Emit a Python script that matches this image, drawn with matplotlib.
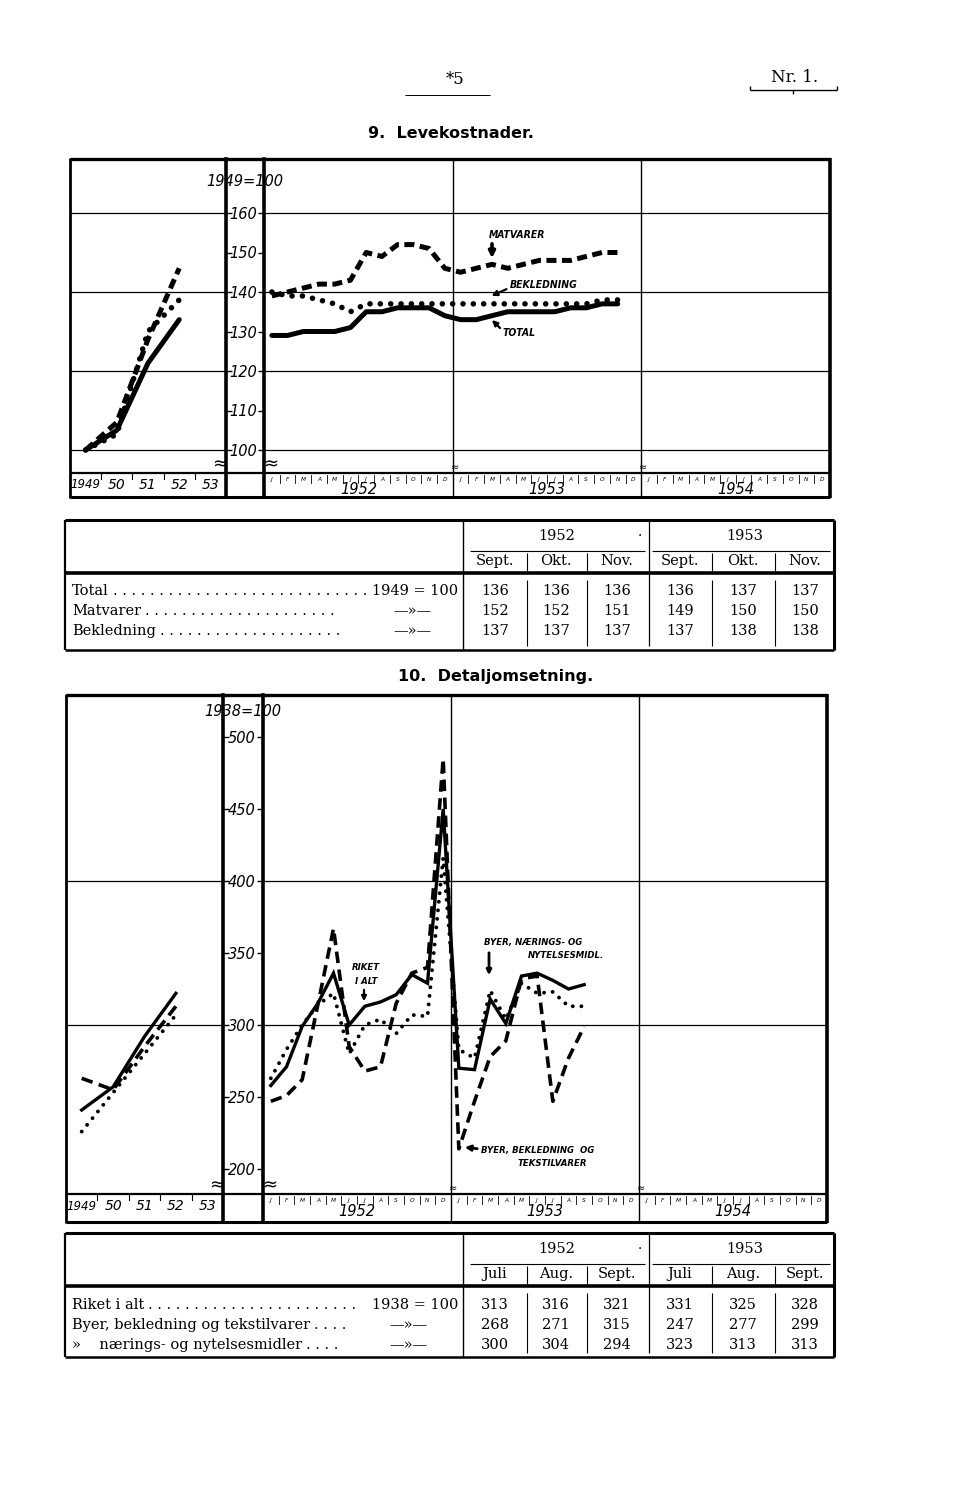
import numpy as np
import matplotlib
matplotlib.use('Agg')
import matplotlib.pyplot as plt
from matplotlib.transforms import Affine2D, blended_transform_factory
from matplotlib.lines import Line2D
from matplotlib.patches import FancyArrowPatch

# ---------------- data ----------------
annual_labels = ['1949', '50', '51', '52', '53']
month_letters = ['J', 'F', 'M', 'A', 'M', 'J', 'J', 'A', 'S', 'O', 'N', 'D']
year_labels = ['1952', '1953', '1954']

# 9. Levekostnader (1949 = 100)
lev_ticks = [100, 110, 120, 130, 140, 150, 160]
lev_grid = [100, 120, 140, 160]
lev_total_annual = [100, 105, 122, 133]
lev_mat_annual = [100, 107, 128, 146]
lev_bekl_annual = [100, 104, 130, 138]
# monthly Jan 1952 - Nov 1953
lev_total = [129, 129, 130, 130, 130, 131, 135, 135, 136, 136, 136, 134,
             133, 133, 134, 135, 135, 135, 135, 136, 136, 137, 137]
lev_mat = [139, 140, 141, 142, 142, 143, 150, 149, 152, 152, 151, 146,
           145, 146, 147, 146, 147, 148, 148, 148, 149, 150, 150]
lev_bekl = [140, 139, 139, 138, 137, 135, 137, 137, 137, 137, 137, 137,
            137, 137, 137, 137, 137, 137, 137, 137, 137, 138, 138]

# 10. Detaljomsetning (1938 = 100)
det_ticks = [200, 250, 300, 350, 400, 450, 500]
det_grid = [300, 400]
det_riket_annual = [241, 257, 292, 322]
det_bekl_annual = [263, 255, 285, 313]
det_naer_annual = [226, 253, 280, 307]
# monthly Jan 1952 - Sep 1953
det_riket = [258, 271, 299, 315, 336, 300, 313, 316, 321, 335, 329, 450,
             270, 269, 318, 301, 334, 336, 331, 325, 328]
det_bekl = [247, 251, 262, 314, 367, 285, 268, 271, 315, 336, 340, 485,
            214, 247, 278, 289, 332, 334, 247, 277, 299]
det_naer = [263, 283, 300, 314, 322, 280, 300, 304, 294, 307, 306, 416,
            283, 277, 324, 304, 329, 322, 323, 313, 313]

# tables
tab_years = ['1952', '1953']
tab1_months = ['Sept.', 'Okt.', 'Nov.', 'Sept.', 'Okt.', 'Nov.']
tab1_labels = ['Total', 'Matvarer', 'Bekledning']
tab1_total = [136, 136, 136, 136, 137, 137]
tab1_mat = [152, 152, 151, 149, 150, 150]
tab1_bekl = [137, 137, 137, 137, 138, 138]
tab2_months = ['Juli', 'Aug.', 'Sept.', 'Juli', 'Aug.', 'Sept.']
tab2_labels = ['Riket i alt', 'Byer, bekledning og tekstilvarer',
               '»    nærings- og nytelsesmidler']
tab2_riket = [313, 316, 321, 331, 325, 328]
tab2_bekl = [268, 271, 315, 247, 277, 299]
tab2_naer = [300, 304, 294, 323, 313, 313]

# ---------------- figure ----------------
W, H = 960, 1498
fig = plt.figure(figsize=(W / 100, H / 100), dpi=100)
fig.patch.set_facecolor('white')
PIX = Affine2D().scale(1 / W, -1 / H).translate(0, 1) + fig.transFigure
REND = fig.canvas.get_renderer()

SANS = 'DejaVu Sans'
SERIF = 'DejaVu Serif'


def fline(x0, y0, x1, y1, lw=1.0, **kw):
    fig.add_artist(Line2D([x0, x1], [y0, y1], transform=PIX, color='black',
                          lw=lw, solid_capstyle='butt', **kw))


def ftext(x, y, s, **kw):
    kw.setdefault('ha', 'center')
    kw.setdefault('va', 'center')
    return fig.text(x, y, s, transform=PIX, **kw)


def farrow(x0, y0, x1, y1, lw=1.6, ms=8):
    fig.add_artist(FancyArrowPatch((x0, y0), (x1, y1), transform=PIX,
                                   arrowstyle='-|>', mutation_scale=ms,
                                   lw=lw, color='black'))


def px_axes(x0, y0, x1, y1):
    ax = fig.add_axes([x0 / W, 1 - y1 / H, (x1 - x0) / W, (y1 - y0) / H])
    ax.set_facecolor('none')
    for s in ax.spines.values():
        s.set_visible(False)
    ax.set_xticks([])
    return ax


def draw_chart(top, bottom, left, gl, gr, right, strip, va, pa, vb, pb,
               ticks, grid, base_label, base_y, annual, monthly, styles):
    k = (vb - va) / (pb - pa)
    ylo = va + (bottom - pa) * k
    yhi = va + (top - pa) * k
    axL = px_axes(left, top, gl, bottom)
    axM = px_axes(gr, top, right, bottom)
    axL.set_xlim(0, 5)
    axM.set_xlim(0, 36)
    for ax in (axL, axM):
        ax.set_ylim(ylo, yhi)
        ax.hlines(grid, *ax.get_xlim(), color='black', lw=0.9, zorder=1)
    # y ticks in the gap
    axM.set_yticks(ticks)
    axM.set_yticklabels([str(t) for t in ticks], fontsize=10.5, style='italic',
                        family=SANS)
    axM.tick_params(axis='y', direction='out', length=4, width=1, pad=1.2)
    axL.set_yticks(ticks)
    axL.tick_params(axis='y', left=False, right=True, labelleft=False,
                    direction='out', length=4, width=1)
    axL.spines['right'].set_visible(True)
    axL.spines['right'].set_linewidth(2.6)
    axM.spines['left'].set_visible(True)
    axM.spines['left'].set_linewidth(2.6)
    axM.axvline(12, color='black', lw=1.0)
    axM.axvline(24, color='black', lw=1.0)
    # series
    xa = np.arange(len(annual[0])) + 0.5
    for s, st in zip(annual, styles):
        axL.plot(xa, s, **st)
    for s, st in zip(monthly, styles):
        axM.plot(np.arange(len(s)) + 0.5, s, **st)
    # outer box and strip
    fline(left, top, right, top, lw=2.4)
    fline(left, bottom, right, bottom, lw=2.2)
    fline(left, top - 1, left, bottom + 1, lw=2.0)
    fline(right, top - 1, right, bottom + 1, lw=2.6)
    fline(left, strip, right, strip, lw=1.6)
    # base label
    ftext((gl + gr) / 2, base_y, base_label, fontsize=10.5, style='italic',
          family=SANS)
    # strip labels
    trM = blended_transform_factory(axM.transData, PIX)
    trL = blended_transform_factory(axL.transData, PIX)
    for j, yl in enumerate(year_labels):
        for m, ml in enumerate(month_letters):
            axM.text(12 * j + m + 0.5, strip + 6.5, ml, transform=trM,
                     fontsize=4.2, style='italic', ha='center', va='center',
                     family=SANS, clip_on=False)
        axM.text(12 * j + 6, strip + 17, yl, transform=trM, fontsize=10.5,
                 style='italic', ha='center', va='center', family=SANS,
                 clip_on=False)
    for kx in range(36):
        if kx % 12 == 0:
            continue
        axM.add_line(Line2D([kx, kx], [strip + 2, strip + 10], transform=trM,
                            color='black', lw=0.6, clip_on=False))
    for i, al in enumerate(annual_labels):
        axL.text(i + 0.5, strip + 12, al, transform=trL,
                 fontsize=10 if i else 8.5, style='italic', ha='center',
                 va='center', family=SANS, clip_on=False)
    for kx in range(1, 5):
        axL.add_line(Line2D([kx, kx], [strip, strip + 6], transform=trL,
                            color='black', lw=0.8, clip_on=False))
    # break marks
    ftext(gl - 6, strip - 9, '≈', fontsize=13)
    ftext(gr + 7, strip - 9, '≈', fontsize=13)
    x53 = gr + (right - gr) * 12 / 36
    x54 = gr + (right - gr) * 24 / 36
    ftext(x53 + 2, strip - 6, '≈', fontsize=7)
    ftext(x54 + 2, strip - 6, '≈', fontsize=7)
    return axL, axM


# ---------------- header ----------------
ftext(455, 80, '*5', fontsize=12, family=SERIF)
fline(405, 95, 490, 95, lw=0.7)
ftext(795, 78, 'Nr. 1.', fontsize=12, family=SERIF)
fline(750, 90, 837, 90, lw=1.0)
fline(750, 86, 750, 90, lw=1.0)
fline(837, 86, 837, 90, lw=1.0)
fline(793, 90, 793, 94, lw=1.0)
ftext(368, 134, '9.  Levekostnader.', fontsize=11.5, weight='bold',
      family=SANS, ha='left')

# ---------------- chart 1 ----------------
sty1 = [dict(color='black', lw=3.6, solid_capstyle='round', solid_joinstyle='round'),
        dict(color='black', lw=3.6, linestyle=(0, (2.0, 1.1))),
        dict(color='black', lw=4.0, linestyle=(0, (0.01, 1.85)),
             dash_capstyle='round')]
axL1, axM1 = draw_chart(159, 497, 70, 226, 264, 830, 473,
                        100, 450, 160, 213, lev_ticks, lev_grid,
                        '1949=100', 182,
                        [lev_total_annual, lev_mat_annual, lev_bekl_annual],
                        [lev_total, lev_mat, lev_bekl], sty1)

lab = dict(fontsize=7.5, style='italic', weight='bold', family=SANS,
           stretch='condensed')
ftext(517, 235, 'MATVARER', **lab)
farrow(492, 241, 492, 261, lw=2.6, ms=9)
ftext(510, 285, 'BEKLEDNING', ha='left', **lab)
farrow(509, 288, 489, 297, lw=1.6, ms=8)
ftext(503, 333, 'TOTAL', ha='left', **lab)
farrow(502, 330, 490, 318, lw=1.6, ms=8)


# ---------------- tables ----------------
TFS = 10.5


def leader_row(y, label, end_x):
    t = ftext(72, y, label, ha='left', fontsize=TFS, family=SERIF)
    x0 = t.get_window_extent(renderer=REND).x1
    probe = ftext(0, -100, '. ', ha='left', fontsize=TFS, family=SERIF)
    step = probe.get_window_extent(renderer=REND).width
    probe.remove()
    n = int((end_x - x0 - 4) / step)
    if n > 0:
        ftext(x0 + 4, y, '. ' * n, ha='left', fontsize=TFS, family=SERIF)


def draw_table(top, bottom, yrow, rows, months, labels, right_texts):
    L, R, S = 65, 834, 463
    fline(L, top, R, top, lw=2.2)
    fline(L, bottom, R, bottom, lw=1.8)
    fline(L, top, L, bottom, lw=1.6)
    fline(R, top, R, bottom, lw=2.2)
    fline(S, top, S, bottom, lw=1.0)
    fline(649, top, 649, bottom - 4, lw=0.9)
    ftext(557, top + 16, tab_years[0], fontsize=TFS, family=SERIF)
    ftext(745, top + 16, tab_years[1], fontsize=TFS, family=SERIF)
    fline(470, top + 31, 645, top + 31, lw=0.8)
    fline(652, top + 31, 830, top + 31, lw=0.8)
    ftext(640, top + 16, '·', fontsize=10, family=SERIF)
    cx = [495, 556, 617, 680, 743, 805]
    seps = [527, 587, 712, 775]
    for x in seps:
        fline(x, top + 33, x, top + 51, lw=0.8)
        fline(x, top + 60, x, bottom - 4, lw=0.8)
    for x, m in zip(cx, months):
        ftext(x, top + 41, m, fontsize=TFS, family=SERIF)
    fline(L, top + 53, R, top + 53, lw=2.6)
    for r, (vals, lbl, rt) in enumerate(zip(rows, labels, right_texts)):
        y = yrow[r]
        leader_row(y, lbl[0], lbl[1])
        txt, xr, ha = rt
        ftext(xr, y, txt, ha=ha, fontsize=TFS, family=SERIF)
        for x, v in zip(cx, vals):
            ftext(x, y, str(v), fontsize=TFS, family=SERIF)


draw_table(520, 650, [591, 611, 631], [tab1_total, tab1_mat, tab1_bekl],
           tab1_months,
           [(tab1_labels[0], 372), (tab1_labels[1], 345),
            (tab1_labels[2], 345)],
           [('1949 = 100', 458, 'right'), ('—»—', 412, 'center'),
            ('—»—', 412, 'center')])

ftext(398, 676, '10.  Detaljomsetning.', fontsize=11.5, weight='bold',
      family=SANS, ha='left')

# ---------------- chart 2 ----------------
sty2 = [dict(color='black', lw=2.4, solid_joinstyle='miter'),
        dict(color='black', lw=2.6, linestyle=(0, (3.2, 1.8))),
        dict(color='black', lw=2.8, linestyle=(0, (0.01, 2.2)),
             dash_capstyle='round')]
axL2, axM2 = draw_chart(695, 1222, 66, 223, 263, 827, 1194,
                        300, 1025, 400, 881, det_ticks, det_grid,
                        '1938=100', 711,
                        [det_riket_annual, det_bekl_annual, det_naer_annual],
                        [det_riket, det_bekl, det_naer], sty2)

lab2 = dict(fontsize=6.8, style='italic', weight='bold', family=SANS,
            stretch='condensed')
ftext(366, 968, 'RIKET', **lab2)
ftext(366, 981, 'I ALT', **lab2)
farrow(364, 987, 364, 1004, lw=1.6, ms=7)
ftext(484, 943, 'BYER, NÆRINGS- OG', ha='left', **lab2)
ftext(528, 955, 'NYTELSESMIDL.', ha='left', **lab2)
farrow(489, 950, 489, 978, lw=2.0, ms=7)
ftext(481, 1151, 'BYER, BEKLEDNING  OG', ha='left', **lab2)
ftext(518, 1164, 'TEKSTILVARER', ha='left', **lab2)
farrow(480, 1149, 462, 1147, lw=2.0, ms=8)

draw_table(1233, 1357, [1305, 1325, 1345], [tab2_riket, tab2_bekl, tab2_naer],
           tab2_months,
           [(tab2_labels[0], 362), (tab2_labels[1], 358),
            (tab2_labels[2], 348)],
           [('1938 = 100', 458, 'right'), ('—»—', 408, 'center'),
            ('—»—', 408, 'center')])

fig.savefig('out.png', dpi=100, facecolor='white')
